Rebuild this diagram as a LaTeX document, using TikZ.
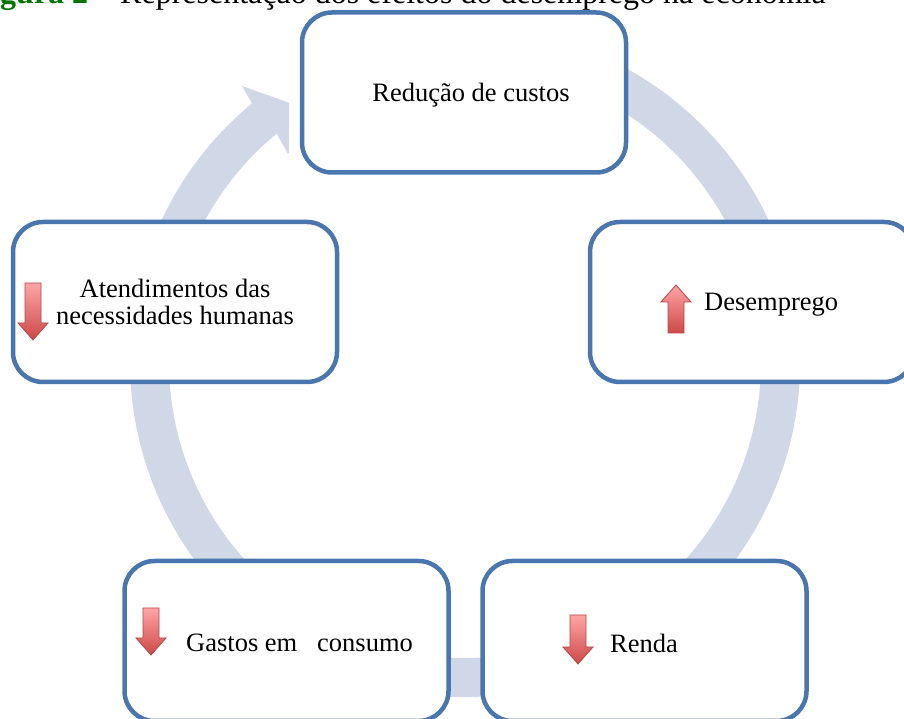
\documentclass[tikz,border=0pt]{standalone}
\usepackage{fontspec}
\setmainfont{Liberation Serif}
\usetikzlibrary{positioning}
\definecolor{boxblue}{RGB}{74,118,175}
\definecolor{ringblue}{RGB}{208,216,232}
\definecolor{figgreen}{RGB}{0,118,0}
\definecolor{arrowlight}{RGB}{255,165,165}
\definecolor{arrowdark}{RGB}{205,72,72}
\definecolor{arrowedge}{RGB}{185,70,70}
\newcommand\lblfont{\fontsize{26.5}{27.5}\selectfont}
\newcommand\ttlfont{\fontsize{32}{36}\selectfont}

\begin{document}
\begin{tikzpicture}[
  x=1pt, y=1pt,
  stage/.style={rectangle, rounded corners=30pt, draw=boxblue, line width=4.5pt, fill=white, minimum width=324pt, minimum height=160pt, align=center, font=\lblfont, inner sep=0pt},
  lbl/.style={anchor=west, inner sep=0pt, font=\lblfont},
  pics/redarrow/.style={code={
    \shadedraw[top color=arrowlight, bottom color=arrowdark, draw=arrowedge, line width=0.8pt]
      (-8,#1) -- (8,#1) -- (8,-#1+17) -- (15,-#1+17) -- (0,-#1) -- (-15,-#1+17) -- (-8,-#1+17) -- cycle;
  }}
]
\useasboundingbox (0,0) rectangle (904,719);

\node[anchor=base west, inner sep=0pt, font=\ttlfont] (title) at (-28.4,715)
  {\textcolor{figgreen}{\textbf{Figura 2}} -- Representação dos efeitos do desemprego na economia};

% cycle ring
\begin{scope}
  \clip (0,0) rectangle (289,719) (300,0) rectangle (904,719);
  \fill[ringblue] ([shift={(100:335pt)}]465,357) arc[start angle=100, end angle=-230.5, radius=335pt]
    -- (242,633) -- (318,606) -- (288,565)
    -- ([shift={(-230.5:296pt)}]465,357) arc[start angle=-230.5, end angle=100, radius=296pt] -- cycle;
\end{scope}

\node[stage] (cost) at (464,626.5) {};
\node[stage] (unemp) at (752,417) {};
\node[stage] (renda) at (644.5,78) {};
\node[stage] (gastos) at (286.5,78) {};
\node[stage] (needs) at (175,417) {Atendimentos das\\necessidades humanas};

\pic at (33,407.5) {redarrow=28.5};
\pic[rotate=180] at (676,410) {redarrow=24};
\pic at (151,87.5) {redarrow=23.5};
\pic at (578,79.5) {redarrow=24.5};

\node[lbl, font=\lblfont, anchor=center] (costText) at (471,623.5) {Redução de custos};
\node[lbl] (unempText) at (704,414) {Desemprego};
\node[lbl] (rendaText) at (610,76) {Renda};
\node[lbl] (gastosText) at (186,76) {Gastos em~~ consumo};
\end{tikzpicture}
\end{document}
